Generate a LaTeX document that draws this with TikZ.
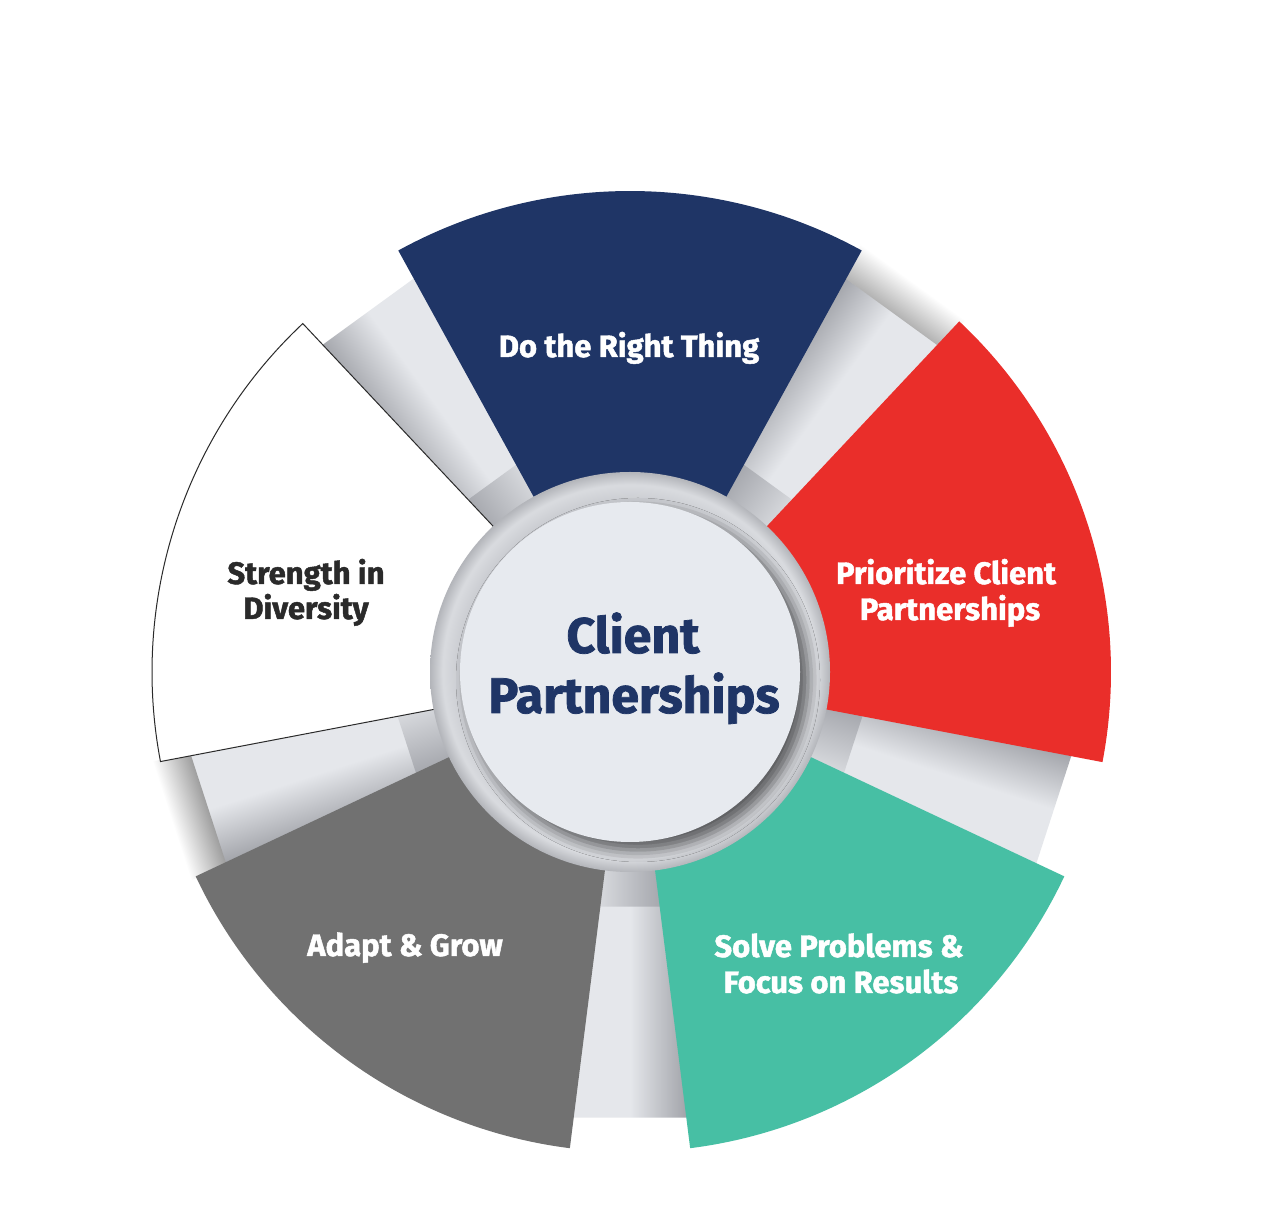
\documentclass[tikz,border=0pt]{standalone}
\usepackage{fontspec}
\setmainfont{Fira Sans}[BoldFeatures={FakeBold=1.5}]
\usetikzlibrary{calc,shadows.blur}
\definecolor{navyC}{HTML}{1F3566}
\definecolor{redC}{HTML}{EA2E2A}
\definecolor{tealC}{HTML}{47BFA4}
\definecolor{grayC}{HTML}{717171}
\definecolor{txtDark}{HTML}{2A2A2A}
\definecolor{centerC}{HTML}{E7EAEF}
\definecolor{tabL}{HTML}{E5E7EB}
\definecolor{tabD}{HTML}{9C9EA4}
\definecolor{hubA}{HTML}{A4A6AC}
\definecolor{hubB}{HTML}{C9CBD0}
\definecolor{hubC}{HTML}{D9DBDF}
\definecolor{hubE}{HTML}{B3B5BA}
\pgfdeclareverticalshading{tabsh}{100bp}{color(0bp)=(tabL); color(25bp)=(tabL); color(50bp)=(tabL); color(75bp)=(tabD); color(100bp)=(tabD)}
\pgfdeclareverticalshading{necksh}{100bp}{color(0bp)=(hubC); color(25bp)=(hubC); color(75bp)=(hubA); color(100bp)=(hubA)}
\pgfdeclareradialshading{hubsh}{\pgfpoint{0bp}{0bp}}{color(0bp)=(hubB); color(21bp)=(hubB); color(21.25bp)=(hubB); color(23.4bp)=(hubC); color(25bp)=(hubE); color(50bp)=(hubE)}
\newcommand{\segpiece}[3]{\path[#3] ($(O)+(#1-28.8:#2)$) arc[start angle=#1-28.8, end angle=#1+28.8, radius=#2] -- ($(O)+(#1+28.8:196)$) arc[start angle=#1+28.8, end angle=#1-28.8, radius=196] -- cycle;}
\tikzset{
  lbl/.style={font=\fontsize{31}{36}\selectfont\bfseries, text=white, anchor=base, inner sep=0pt},
  lbldark/.style={lbl, text=txtDark},
  ctr/.style={font=\fontsize{50}{60}\selectfont\bfseries, text=navyC, anchor=base, inner sep=0pt}
}
\begin{document}
\begin{tikzpicture}[x=1pt,y=1pt]
\fill[white] (0,0) rectangle (1261,1221);
\useasboundingbox (0,0) rectangle (1261,1221);
\coordinate (O) at (630,549);
% tabs and necks
\foreach \g/\h in {54/8.2,126/8.2,198/7.9,270/7.9,342/8.0}{
  \begin{scope}[transform canvas={shift={(630,549)},rotate=\g}]
    \shade[shading=tabsh] (-\h:236) -- (-\h:450) -- (\h:450) -- (\h:236) -- cycle;
    \shade[shading=necksh] (-\h:185) -- (-\h:237) -- (\h:237) -- (\h:185) -- cycle;
  \end{scope}
}
% curled tab ends
\begin{scope}[transform canvas={shift={(630,549)},rotate=54}]
  \shade[left color=black!30, right color=white] (-7.6:449) -- (-7.6:486) -- (7.6:486) -- (7.6:449) -- cycle;
\end{scope}
\begin{scope}[transform canvas={shift={(630,549)},rotate=198}]
  \shade[left color=black!38, right color=white] (-7.4:447) -- (-7.4:486) -- (7.4:486) -- (7.4:447) -- cycle;
\end{scope}
% segments
\segpiece{90}{481}{fill=navyC}
\segpiece{162}{478}{fill=white, draw=txtDark, line width=1}
\segpiece{234}{480}{fill=grayC}
\segpiece{306}{480}{fill=tealC}
\segpiece{18}{481}{fill=redC}
% hub
\shade[shading=hubsh] (O) circle (200);
\fill[centerC, blur shadow={shadow xshift=8pt, shadow yshift=-8pt, shadow blur radius=12pt, shadow opacity=55}] (O) circle (170);
% labels
\node[ctr] (c1) at (633,568) {Client};
\node[ctr] (c2) at (634,508) {Partnerships};
\node[lbl] (l1) at (629,864) {Do the Right Thing};
\node[lbl] (l2a) at (946,637) {Prioritize Client};
\node[lbl] (l2b) at (950,601) {Partnerships};
\node[lbl] (l3a) at (839,264) {Solve Problems \&};
\node[lbl] (l3b) at (841,228) {Focus on Results};
\node[lbl] (l4) at (405,265) {Adapt \& Grow};
\node[lbldark] (l5a) at (306,637) {Strength in};
\node[lbldark] (l5b) at (306,602) {Diversity};
\end{tikzpicture}
\end{document}
